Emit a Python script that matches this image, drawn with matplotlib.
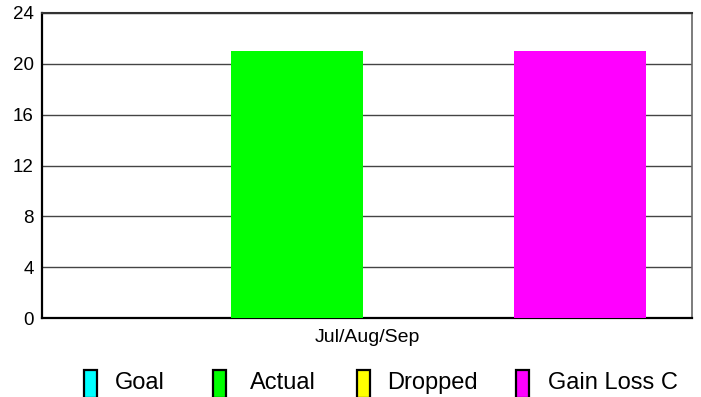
import numpy as np
import matplotlib
matplotlib.use("Agg")
from matplotlib import pyplot as plt
from matplotlib.patches import Rectangle

plt.rcParams['font.family'] = ['Liberation Sans', 'DejaVu Sans']

# data
series = ['Goal', 'Actual', 'Dropped', 'Gain Loss C']
values = [0, 21, 0, 21]
colors = ['#00ffff', '#00ff00', '#ffff00', '#ff00ff']
period = 'Jul/Aug/Sep'
yticks = [0, 4, 8, 12, 16, 20, 24]

W, H = 701, 397
fig = plt.figure(figsize=(W / 100, H / 100), dpi=100)
ax = fig.add_axes([42 / W, (H - 318.3) / H, 650 / W, 305.6 / H])

x = np.arange(len(series))
ax.bar(x, values, width=0.931, color=colors, zorder=3)
ax.set_xlim(-0.801, 3.793)
ax.set_ylim(0, 24)
ax.set_yticks(yticks)
ax.tick_params(axis='y', length=0, pad=5.8, labelsize=13.5)
ax.set_xticks([1.5])
ax.set_xticklabels([period])
ax.tick_params(axis='x', length=0, pad=8, labelsize=14)
ax.grid(axis='y', color='#444444', linewidth=1, zorder=1)

for s in ['left', 'bottom']:
    ax.spines[s].set_color('black')
    ax.spines[s].set_linewidth(1.6)
ax.spines['top'].set_color('#333333')
ax.spines['top'].set_linewidth(1.5)
ax.spines['right'].set_color('#666666')
ax.spines['right'].set_linewidth(1.2)

# legend row below the chart
box_x = [83, 212, 356, 515]
text_x = [115, 250, 387, 548]
for bx, tx, name, c in zip(box_x, text_x, series, colors):
    fig.add_artist(Rectangle(((bx + 1) / W, (H - 398) / H), 13 / W, 28 / H,
                             facecolor=c, edgecolor='black', linewidth=1.6,
                             transform=fig.transFigure))
    fig.text(tx / W, (H - 383) / H, name, fontsize=17, va='center', ha='left')

fig.savefig('out.png', dpi=100)
